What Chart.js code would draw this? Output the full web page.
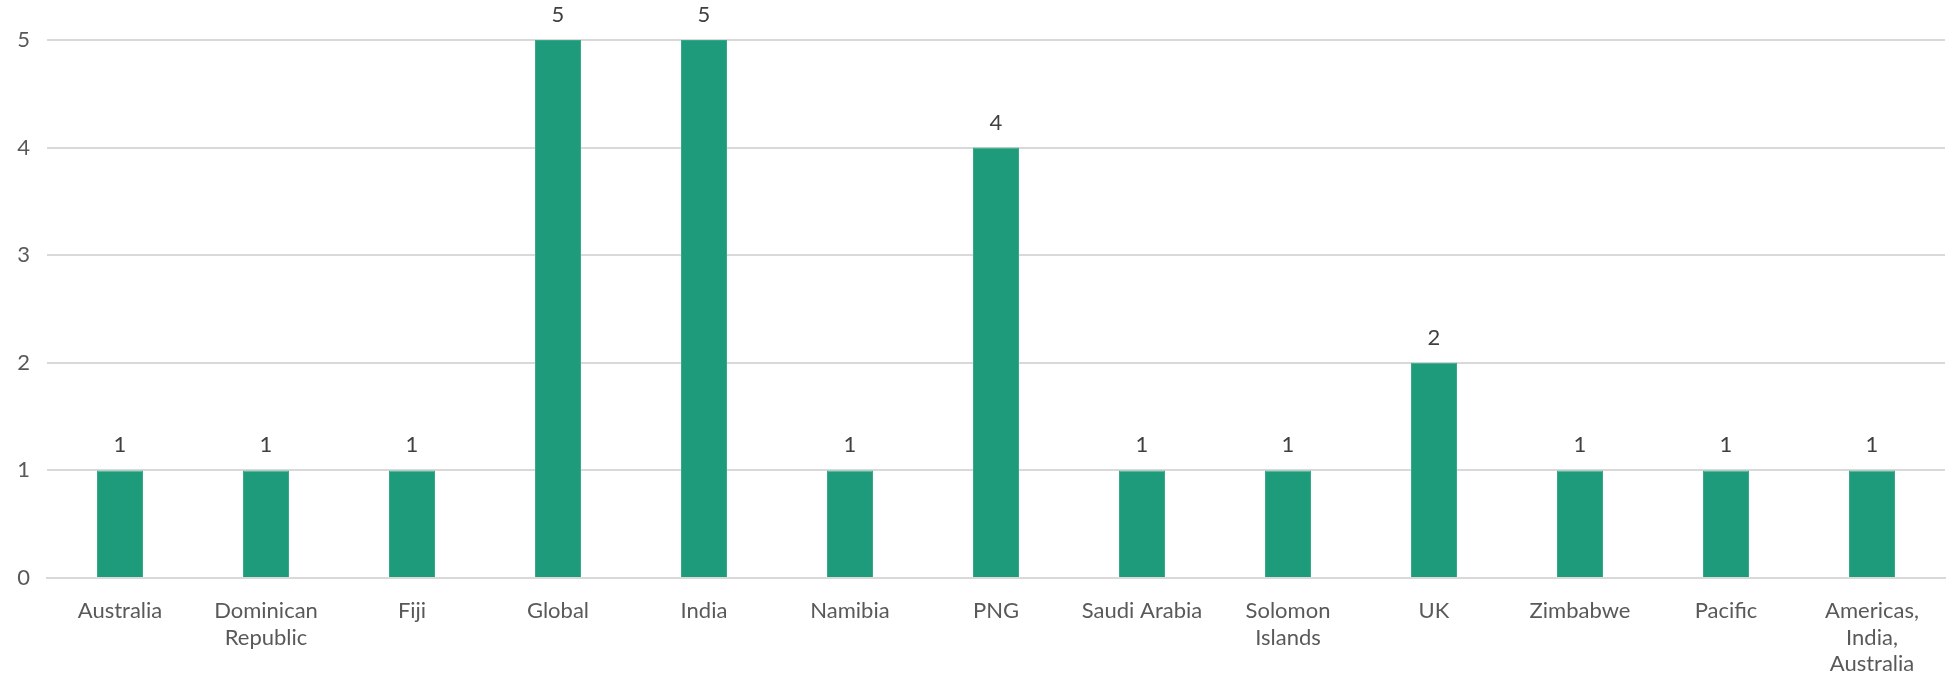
<!DOCTYPE html>
<html>
<head>
<meta charset="utf-8">
<script src="https://cdn.jsdelivr.net/npm/chart.js@4"></script>
<style>
  html, body { margin: 0; padding: 0; background: #fff; }
  #wrap { width: 1954px; height: 680px; }
</style>
</head>
<body>
<div id="wrap"><canvas id="grafico"></canvas></div>
<script>
// categorías y valores
const paises = [
  'Australia', ['Dominican', 'Republic'], 'Fiji', 'Global', 'India', 'Namibia', 'PNG',
  'Saudi Arabia', ['Solomon', 'Islands'], 'UK', 'Zimbabwe', 'Pacific', ['Americas,', 'India,', 'Australia']
];
const cantidades = [1, 1, 1, 5, 5, 1, 4, 1, 1, 2, 1, 1, 1];
const ticksY = [0, 1, 2, 3, 4, 5];

const fuente = 'Lato, "Liberation Sans", sans-serif';
const gris = '#595959';
const lineaGris = '#d9d9d9';

// etiquetas de valor encima de cada barra
const etiquetasValor = {
  id: 'etiquetasValor',
  afterDatasetsDraw(chart) {
    const c = chart.ctx;
    const meta = chart.getDatasetMeta(0);
    c.save();
    c.font = '22px ' + fuente;
    c.fillStyle = '#404040';
    c.textAlign = 'center';
    c.textBaseline = 'bottom';
    meta.data.forEach((barra, i) => {
      c.fillText(String(cantidades[i]), barra.x, barra.y - 14);
    });
    c.restore();
  }
};

document.addEventListener('DOMContentLoaded', () => {
  const ctx = document.getElementById('grafico').getContext('2d');
  new Chart(ctx, {
    type: 'bar',
    data: {
      labels: paises,
      datasets: [{
        data: cantidades,
        backgroundColor: '#1e9b7a',
        borderColor: '#35a88a',
        borderWidth: 1,
        categoryPercentage: 1,
        barPercentage: 0.315
      }]
    },
    options: {
      responsive: true,
      maintainAspectRatio: false,
      animation: false,
      layout: { padding: { top: 40, right: 9, bottom: 0, left: 0 } },
      plugins: {
        legend: { display: false },
        tooltip: { enabled: false }
      },
      scales: {
        x: {
          grid: { display: false, drawTicks: false },
          border: { display: true, color: lineaGris, width: 2 },
          ticks: {
            color: gris,
            font: { family: fuente, size: 22 },
            padding: 20,
            maxRotation: 0,
            autoSkip: false
          },
          afterFit(scale) { scale.height = 102; }
        },
        y: {
          min: 0,
          max: 5,
          afterBuildTicks(scale) { scale.ticks = ticksY.map(v => ({ value: v })); },
          grid: { color: lineaGris, lineWidth: 2, drawTicks: false },
          border: { display: false },
          ticks: {
            color: gris,
            font: { family: fuente, size: 22 },
            padding: 17
          },
          afterFit(scale) { scale.width = 47; }
        }
      }
    },
    plugins: [etiquetasValor]
  });
});
</script>
</body>
</html>
